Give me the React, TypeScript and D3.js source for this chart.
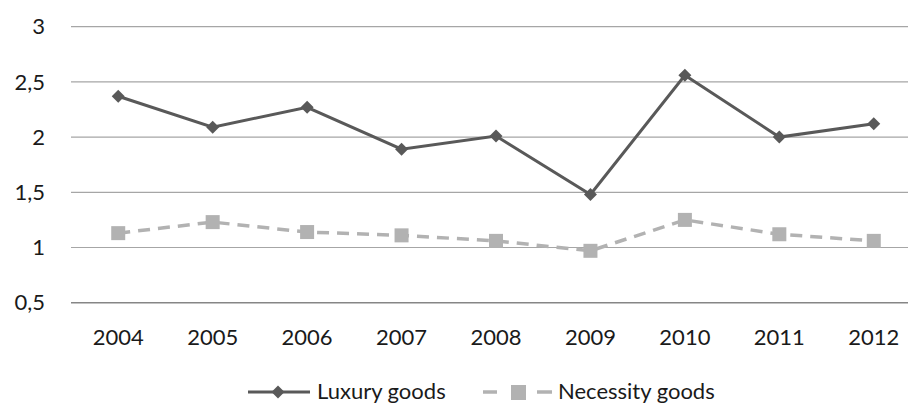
import React from "react";
import * as d3 from "d3";

const years = ["2004", "2005", "2006", "2007", "2008", "2009", "2010", "2011", "2012"];
const luxury = [2.37, 2.09, 2.27, 1.89, 2.01, 1.48, 2.56, 2.0, 2.12];
const necessity = [1.13, 1.23, 1.14, 1.11, 1.06, 0.97, 1.25, 1.12, 1.06];
const yTicks = [0.5, 1, 1.5, 2, 2.5, 3];

const W = 908;
const H = 403;
const FONT = "Lato, 'Open Sans', sans-serif";
const DARK = "#595959";
const LIGHT = "#b2b2b2";

export default function App() {
  const x = d3.scaleBand<string>().domain(years).range([71, 921]);
  const y = d3.scaleLinear().domain([0.5, 3]).range([302.7, 26.7]);
  const cx = (yr: string) => (x(yr) as number) + x.bandwidth() / 2;

  const line = d3
    .line<number>()
    .x((_, i) => cx(years[i]))
    .y((d) => y(d));

  const fmt = (v: number) => String(v).replace(".", ",");
  const diamond = (px: number, py: number, r: number) =>
    `M${px},${py - r}L${px + r},${py}L${px},${py + r}L${px - r},${py}Z`;

  return (
    <svg
      width={W}
      height={H}
      style={{ position: "absolute", left: 0, top: 0, background: "#fff" }}
      fontFamily={FONT}
    >
      <defs>
        <clipPath id="plot">
          <rect x={0} y={0} width={W} height={H} />
        </clipPath>
      </defs>
      {yTicks.map((t) => (
        <g key={t}>
          <line
            x1={71}
            x2={W}
            y1={y(t)}
            y2={y(t)}
            stroke={t === 0.5 ? "#868686" : "#a6a6a6"}
            strokeWidth={t === 0.5 ? 1.5 : 1.2}
          />
          <text x={45} y={y(t)} dy="0.35em" textAnchor="end" fontSize={22} fill="#1a1a1a">
            {fmt(t)}
          </text>
        </g>
      ))}
      {years.map((yr) => (
        <text key={yr} x={cx(yr)} y={345} textAnchor="middle" fontSize={22} fill="#1a1a1a">
          {yr}
        </text>
      ))}
      <g clipPath="url(#plot)">
        <path
          d={line(necessity) || ""}
          fill="none"
          stroke={LIGHT}
          strokeWidth={3.5}
          strokeDasharray="12 8"
        />
        {necessity.map((v, i) => (
          <rect key={i} x={cx(years[i]) - 7} y={y(v) - 7} width={14} height={14} fill={LIGHT} />
        ))}
        <path d={line(luxury) || ""} fill="none" stroke={DARK} strokeWidth={3} />
        {luxury.map((v, i) => (
          <path key={i} d={diamond(cx(years[i]), y(v), 6.5)} fill={DARK} />
        ))}
      </g>
      <g>
        <line x1={248} x2={310} y1={392} y2={392} stroke={DARK} strokeWidth={3} />
        <path d={diamond(278, 392, 6.5)} fill={DARK} />
        <text x={317} y={399} fontSize={22} fill="#1a1a1a">
          Luxury goods
        </text>
        <line x1={483} x2={497} y1={392} y2={392} stroke={LIGHT} strokeWidth={3.5} />
        <rect x={511} y={385} width={15} height={15} fill={LIGHT} />
        <line x1={537} x2={552} y1={392} y2={392} stroke={LIGHT} strokeWidth={3.5} />
        <text x={558} y={399} fontSize={22} fill="#1a1a1a">
          Necessity goods
        </text>
      </g>
    </svg>
  );
}
